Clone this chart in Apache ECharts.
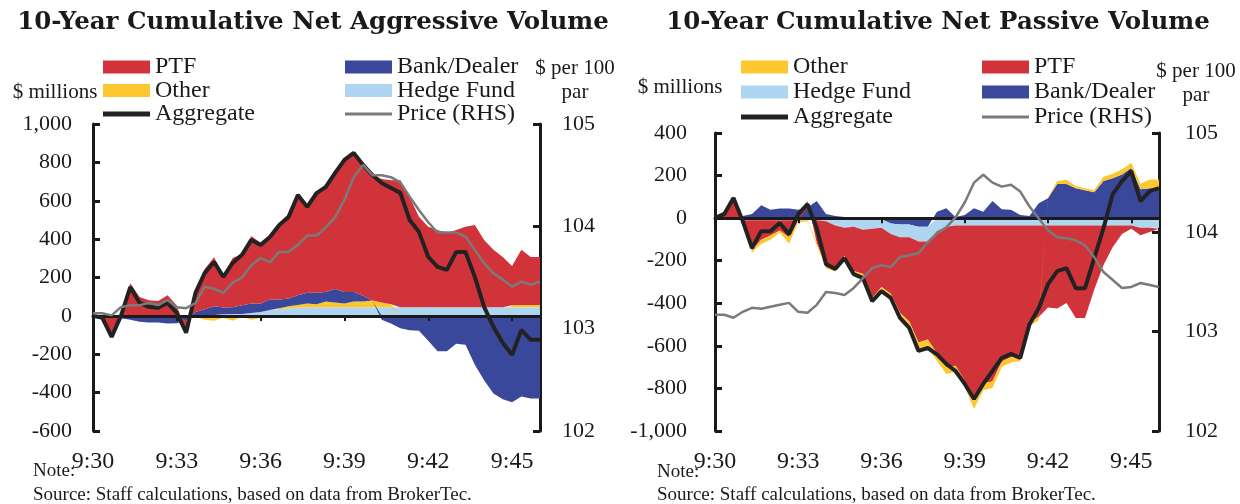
<!DOCTYPE html>
<html>
<head>
<meta charset="utf-8">
<script src="https://cdn.jsdelivr.net/npm/echarts@6/dist/echarts.min.js"></script>
<style>
  html, body { margin: 0; padding: 0; background: #fff; }
  #chart { width: 1240px; height: 504px; }
</style>
</head>
<body>
<div id="chart"></div>
<script>
// time buckets, 20 seconds apart
var times = ['9:30:00', '9:30:20', '9:30:40', '9:31:00', '9:31:20', '9:31:40', '9:32:00', '9:32:20', '9:32:40',
  '9:33:00', '9:33:20', '9:33:40', '9:34:00', '9:34:20', '9:34:40', '9:35:00', '9:35:20', '9:35:40',
  '9:36:00', '9:36:20', '9:36:40', '9:37:00', '9:37:20', '9:37:40', '9:38:00', '9:38:20', '9:38:40',
  '9:39:00', '9:39:20', '9:39:40', '9:40:00', '9:40:20', '9:40:40', '9:41:00', '9:41:20', '9:41:40',
  '9:42:00', '9:42:20', '9:42:40', '9:43:00', '9:43:20', '9:43:40', '9:44:00', '9:44:20', '9:44:40',
  '9:45:00', '9:45:20', '9:45:40', '9:46:00']

// aggressive volume, $ millions
var aggPTF = [0, -5, -102, 13, 170, 98, 82, 77, 108, 54, -63, 105, 209, 256, 170, 256, 268, 351, 315, 331, 389,
  426, 523, 448, 520, 547, 605, 688, 724, 682, 654, 643, 647, 663, 575, 471, 419, 403, 387, 403, 419, 429, 351,
  299, 262, 205, 287, 250, 250]
var aggOther = [0, 0, 0, 0, 0, 0, 0, 0, 0, 0, 0, -5, -20, -25, -10, -25, -5, -20, -10, -5, 5, 10,
  15, 20, 15, 30, 25, 20, 30, 30, 35, 25, 15, -5, -5, -5, -5, -5, -5, -5, -5, -5, -5, -5, -5, 10, 12, 12, 12]
var aggBank = [0, 0, 0, -5, -10, -20, -25, -25, -30, -30, -20, 20, 30, 45, 35, 35, 45, 50, 45, 55, 45,
  40, 50, 55, 60, 50, 70, 60, 50, 30, 0, -20, -40, -60, -70, -73, -125, -180, -180, -140, -145, -250, -330,
  -400, -430, -450, -420, -430, -430]
var aggHedge = [0, -5, -8, -8, -10, -10, -10, -10, -10, -8, -5, 0, 5, 5, 8, 10, 10, 15, 20, 30, 35,
  40, 42, 45, 45, 45, 45, 45, 45, 45, 45, 45, 45, 45, 45, 45, 45, 45, 45, 45, 45, 45, 45, 45, 45, 45, 45, 45, 45]
var aggTotal = [0, -10, -110, 0, 150, 68, 47, 42, 68, 16, -88, 120, 224, 281, 203, 276, 318, 396, 370, 411, 474,
  516, 630, 568, 640, 672, 745, 813, 849, 787, 734, 693, 667, 641, 500, 438, 307, 255, 240, 333, 333, 203, 47,
  -57, -141, -203, -73, -125, -125]
var aggPrice = [103.15, 103.15, 103.13, 103.21, 103.23, 103.23, 103.25, 103.23, 103.28, 103.21, 103.2, 103.25,
  103.41, 103.39, 103.35, 103.45, 103.5, 103.62, 103.69, 103.65, 103.75, 103.75, 103.82, 103.91, 103.91, 103.99,
  104.09, 104.26, 104.48, 104.6, 104.5, 104.5, 104.48, 104.43, 104.29, 104.16, 104.04, 103.94, 103.94, 103.94,
  103.9, 103.77, 103.64, 103.54, 103.48, 103.41, 103.46, 103.43, 103.46]

// passive volume, $ millions
var pasPTF = [0, 25, 100, -9, -141, -91, -71, -48, -80, -1, 31, -107, -211, -204, -133, -208, -207, -325, -278,
  -280, -354, -396, -474, -460, -575, -662, -658, -729, -822, -739, -733, -639, -618, -617, -453, -430, -385,
  -389, -364, -434, -434, -300, -185, -100, -40, -15, -35, -20, -5]
var pasOther = [0, 0, 0, -5, -10, -20, -20, -10, -30, -10, -5, -10, -10, -10, -15, -15, -20, -15, -20, -20, -25,
  -30, -40, -40, -35, -30, -30, -30, -40, -35, -30, -25, -25, -20, -20, -15, 5, 15, 20, 10, 10, 10, 20, 20, 25,
  25, 25, 40, 40]
var pasBank = [0, 0, 0, 10, 20, 60, 40, 45, 45, 40, 50, 80, 20, 10, 5, 0, -5, -5, -5, -25, -30, -30, -40, -40,
  30, 47, 5, 15, 47, 30, 80, 42, 40, 15, 10, 70, 94, 160, 160, 141, 131, 122, 174, 188, 205, 235, 136, 141, 141]
var pasHedge = [0, -5, -5, -10, -10, -10, -10, -10, -10, -10, -10, -10, -15, -35, -45, -40, -50, -45, -40, -50,
  -60, -60, -70, -70, -60, -40, -35, -35, -35, -35, -35, -35, -35, -35, -35, -35, -35, -35, -35, -35, -35, -35,
  -35, -35, -35, -35, -45, -45, -45]
var pasTotal = [0, 20, 95, -14, -141, -61, -61, -23, -75, 19, 66, -47, -216, -239, -188, -263, -282, -390, -343,
  -375, -469, -516, -624, -610, -640, -685, -718, -779, -850, -779, -718, -657, -638, -657, -498, -423, -310,
  -249, -235, -329, -329, -188, -47, 113, 174, 221, 80, 127, 141]
var pasPrice = [103.17, 103.17, 103.14, 103.2, 103.24, 103.23, 103.25, 103.27, 103.29, 103.2, 103.19, 103.27,
  103.4, 103.39, 103.37, 103.44, 103.54, 103.64, 103.67, 103.65, 103.75, 103.77, 103.79, 103.9, 103.99, 104.05,
  104.15, 104.3, 104.5, 104.58, 104.5, 104.46, 104.48, 104.41, 104.26, 104.14, 104.02, 103.95, 103.94, 103.92,
  103.87, 103.75, 103.6, 103.52, 103.44, 103.45, 103.49, 103.47, 103.45]

var colors = {
  'PTF': '#d0343a',
  'Other': '#fdc82f',
  'Bank/Dealer': '#39489b',
  'Hedge Fund': '#aed6f1',
  'Aggregate': '#222222',
  'Price (RHS)': '#7a7a7a'
}
var serif = "'Liberation Serif', 'Times New Roman', serif"
var ink = '#1a1a1a'

function areaSeries(name, data, grid, stack) {
  return {
    name: name,
    type: 'line',
    xAxisIndex: grid * 2,
    yAxisIndex: grid * 2,
    stack: stack,
    data: data,
    symbol: 'none',
    lineStyle: { width: 0 },
    itemStyle: { color: colors[name] },
    areaStyle: { color: colors[name], opacity: 1 },
    emphasis: { disabled: true },
    z: 2
  }
}

function lineSeries(name, data, grid, right, width) {
  return {
    name: name,
    type: 'line',
    xAxisIndex: grid * 2,
    yAxisIndex: grid * 2 + (right ? 1 : 0),
    data: data,
    symbol: 'none',
    lineStyle: { width: width, color: colors[name] },
    itemStyle: { color: colors[name] },
    emphasis: { disabled: true },
    z: right ? 6 : 5
  }
}

function xAxes(grid) {
  return [{
    type: 'category',
    gridIndex: grid,
    data: times,
    boundaryGap: false,
    axisLine: { onZero: true, lineStyle: { color: ink, width: 3 } },
    axisTick: { show: true, interval: 8, length: 5, lineStyle: { color: ink, width: 2 } },
    axisLabel: { show: false },
    splitLine: { show: false },
    z: 4
  }, {
    type: 'category',
    gridIndex: grid,
    position: 'bottom',
    data: times,
    boundaryGap: false,
    axisLine: { show: false, onZero: false },
    axisTick: { show: false },
    axisLabel: {
      interval: 8,
      margin: 19,
      color: ink,
      fontFamily: serif,
      fontSize: 24,
      formatter: function (v) { return v.slice(0, -3) }
    },
    splitLine: { show: false }
  }]
}

function yAxes(grid, min, max, leftMargin, rightMargin) {
  var line = { show: true, onZero: false, lineStyle: { color: ink, width: 3 } }
  var tick = { show: true, inside: true, length: 7, lineStyle: { color: ink, width: 3 } }
  return [{
    type: 'value',
    gridIndex: grid,
    position: 'left',
    min: min,
    max: max,
    interval: 200,
    axisLine: line,
    axisTick: tick,
    splitLine: { show: false },
    axisLabel: {
      margin: leftMargin,
      color: ink,
      fontFamily: serif,
      fontSize: 22,
      formatter: function (v) { return v.toLocaleString('en-US') }
    }
  }, {
    type: 'value',
    gridIndex: grid,
    position: 'right',
    min: 102,
    max: 105,
    interval: 1,
    axisLine: line,
    axisTick: tick,
    splitLine: { show: false },
    axisLabel: { margin: rightMargin, color: ink, fontFamily: serif, fontSize: 22 }
  }]
}

function legend(left, top, gap, names) {
  return {
    left: left,
    top: top,
    padding: 0,
    orient: 'vertical',
    itemWidth: 47,
    itemHeight: 13,
    itemGap: gap,
    selectedMode: false,
    symbolKeepAspect: true,
    textStyle: { fontFamily: serif, fontSize: 24, color: ink, lineHeight: 24 },
    data: names.map(function (n) {
      if (n === 'Aggregate') return { name: n, icon: 'path://M0,0H48V5H0Z' }
      if (n === 'Price (RHS)') return { name: n, icon: 'path://M0,0H48V3H0Z' }
      return { name: n, icon: 'rect' }
    })
  }
}

function label(text, x, y, align, size, bold, family) {
  return {
    type: 'text',
    x: x,
    y: y,
    style: {
      text: text,
      fill: ink,
      fontFamily: family || serif,
      fontSize: size,
      fontWeight: bold ? 'bold' : 'normal',
      align: align,
      verticalAlign: 'middle'
    }
  }
}

var chart = echarts.init(document.getElementById('chart'), null, { renderer: 'canvas' })

var option = {
  animation: false,
  backgroundColor: '#fff',
  grid: [
    { left: 93, right: 700, top: 124, bottom: 73 },
    { left: 715, right: 81, top: 133, bottom: 73 }
  ],
  xAxis: xAxes(0).concat(xAxes(1)),
  yAxis: yAxes(0, -600, 1000, 21, 22).concat(yAxes(1, -1000, 400, 28, 26)),
  legend: [
    legend(103, 55, -0.5, ['PTF', 'Other', 'Aggregate']),
    legend(345, 55, -0.5, ['Bank/Dealer', 'Hedge Fund', 'Price (RHS)']),
    legend(741, 55, 1, ['Other', 'Hedge Fund', 'Aggregate']),
    legend(982, 55, 1, ['PTF', 'Bank/Dealer', 'Price (RHS)'])
  ],
  series: [
    areaSeries('Hedge Fund', aggHedge, 0, 'agg'),
    areaSeries('Other', aggOther, 0, 'agg'),
    areaSeries('Bank/Dealer', aggBank, 0, 'agg'),
    areaSeries('PTF', aggPTF, 0, 'agg'),
    lineSeries('Aggregate', aggTotal, 0, false, 4),
    lineSeries('Price (RHS)', aggPrice, 0, true, 2.5),

    areaSeries('Bank/Dealer', pasBank, 1, 'pas'),
    areaSeries('Hedge Fund', pasHedge, 1, 'pas'),
    areaSeries('PTF', pasPTF, 1, 'pas'),
    areaSeries('Other', pasOther, 1, 'pas'),
    lineSeries('Aggregate', pasTotal, 1, false, 4),
    lineSeries('Price (RHS)', pasPrice, 1, true, 2.5)
  ],
  graphic: [
    label('10-Year Cumulative Net Aggressive Volume', 313, 23, 'center', 24.5, true, "'DejaVu Serif', serif"),
    label('10-Year Cumulative Net Passive Volume', 938, 23, 'center', 24.5, true, "'DejaVu Serif', serif"),
    label('$ millions', 55, 92, 'center', 21),
    label('$ per 100', 575, 68, 'center', 21),
    label('par', 575, 92, 'center', 21),
    label('$ millions', 680, 87, 'center', 21),
    label('$ per 100', 1196, 71, 'center', 21),
    label('par', 1196, 95, 'center', 21),
    label('Note:', 33, 471, 'left', 19),
    label('Source: Staff calculations, based on data from BrokerTec.', 33, 495, 'left', 19),
    label('Note:', 657, 472, 'left', 19),
    label('Source: Staff calculations, based on data from BrokerTec.', 657, 495, 'left', 19)
  ]
}
chart.setOption(option)
</script>
</body>
</html>
